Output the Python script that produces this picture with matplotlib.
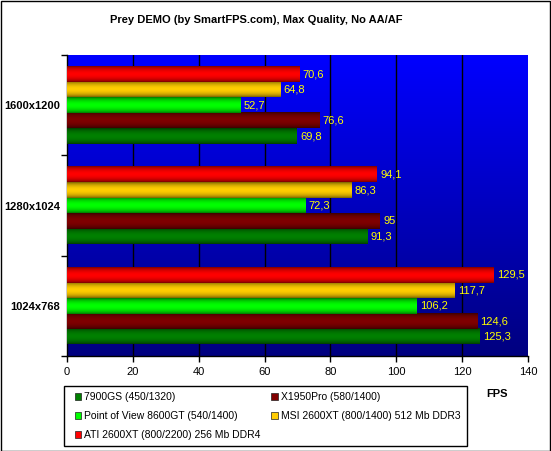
import numpy as np
import matplotlib
matplotlib.use("Agg")
import matplotlib.pyplot as plt
from matplotlib.patches import Patch, Rectangle
from matplotlib.legend_handler import HandlerPatch
from matplotlib.colors import to_rgb

plt.rcParams['font.family'] = ['Liberation Sans', 'DejaVu Sans']

categories = ["1024x768", "1280x1024", "1600x1200"]
series_names = [
    "7900GS (450/1320)",
    "X1950Pro (580/1400)",
    "Point of View 8600GT (540/1400)",
    "MSI 2600XT (800/1400) 512 Mb DDR3",
    "ATI 2600XT (800/2200) 256 Mb DDR4",
]
values_7900gs = [125.3, 91.3, 69.8]
values_x1950 = [124.6, 95, 76.6]
values_pov = [106.2, 72.3, 52.7]
values_msi = [117.7, 86.3, 64.8]
values_ati = [129.5, 94.1, 70.6]
series_values = [values_7900gs, values_x1950, values_pov, values_msi, values_ati]
series_colors = ["#008000", "#800000", "#00ff00", "#ffcc00", "#ff0000"]
x_ticks = [0, 20, 40, 60, 80, 100, 120, 140]

fig = plt.figure(figsize=(5.51, 4.51), dpi=100)
ax = fig.add_axes([67 / 551, 1 - 356 / 451, (528 - 67) / 551, (356 - 55) / 451])

# background gradient
grad = np.linspace(0, 1, 256).reshape(-1, 1)
bg = np.zeros((256, 1, 3))
bg[:, 0, 2] = 1.0 - 0.5 * grad[:, 0]
ax.imshow(bg, extent=[0, 1, 0, 1], transform=ax.transAxes, aspect='auto',
          zorder=0, interpolation='bilinear')

n = len(series_values)
bar_h = 0.154
y0 = np.arange(len(categories))
for i, (vals, col) in enumerate(zip(series_values, series_colors)):
    offs = (i - (n - 1) / 2) * bar_h
    bars = ax.barh(y0 + offs, vals, height=bar_h, color=col, zorder=3, linewidth=0)
    base = np.array(to_rgb(col))
    t = np.linspace(0, 1, 64)
    shade = 0.45 + 0.55 * np.sin(np.pi * t) ** 0.7
    img = (base[None, :] * shade[:, None])[:, None, :]
    for b, v in zip(bars, vals):
        x, y = b.get_x(), b.get_y()
        w, h = b.get_width(), b.get_height()
        ax.imshow(img, extent=[x, x + w, y, y + h], aspect='auto',
                  zorder=4, interpolation='bilinear')
        ax.text(x + w + 1.0, y + h / 2, f"{v:g}".replace('.', ','),
                color='#ffff00', fontsize=8, va='center', ha='left', zorder=6)

ax.set_xlim(0, 140)
ax.set_ylim(-0.5, len(categories) - 0.5)
ax.set_xticks(x_ticks)
ax.set_xticklabels([str(v) for v in x_ticks], fontsize=8)
ax.set_yticks(y0)
ax.set_yticklabels(categories, fontsize=8, fontweight='bold')
ax.set_yticks(np.arange(len(categories) + 1) - 0.5, minor=True)
ax.tick_params(axis='y', which='major', length=0, pad=5)
ax.tick_params(axis='y', which='minor', length=4, width=1, direction='out')
ax.tick_params(axis='x', length=4, width=1, direction='out', pad=4)
for xv in x_ticks[1:-1]:
    ax.axvline(xv, color='black', lw=1, zorder=2)
for s in ['top', 'right']:
    ax.spines[s].set_visible(False)
for s in ['left', 'bottom']:
    ax.spines[s].set_linewidth(1)
ax.set_aspect('auto')

fig.text(256 / 551, 1 - 20 / 451, "Prey DEMO (by SmartFPS.com), Max Quality, No AA/AF",
         ha='center', va='center', fontsize=8, fontweight='bold')
fig.text(497 / 551, 1 - 394 / 451, "FPS", ha='center', va='center',
         fontsize=8, fontweight='bold', zorder=10)


def square_patch(legend, orig_handle, xdescent, ydescent, width, height, fontsize):
    s = min(height, width) * 0.95
    return Rectangle((width - s - xdescent, (height - s) / 2 - ydescent), s, s)


handles = [Patch(facecolor=c, edgecolor='#202020', linewidth=0.5) for c in series_colors]
order = [0, 2, 4, 1, 3]
leg = fig.legend([handles[i] for i in order], [series_names[i] for i in order],
                 ncol=2, loc='upper left',
                 bbox_to_anchor=(64 / 551, 1 - 386 / 451),
                 frameon=True, fancybox=False, edgecolor='black', framealpha=1,
                 fontsize=7.5, handlelength=1.05, handleheight=0.65,
                 handletextpad=0.3, columnspacing=0.6, labelspacing=0.85,
                 borderpad=0.6, borderaxespad=0,
                 handler_map={Patch: HandlerPatch(patch_func=square_patch)})
leg.get_frame().set_linewidth(1)

fig.patches.append(Rectangle((0.5 / 551, 0.5 / 451), 1 - 1.5 / 551, 1 - 1.5 / 451,
                             transform=fig.transFigure, fill=False,
                             edgecolor='black', lw=1))

fig.savefig("out.png", dpi=100)
